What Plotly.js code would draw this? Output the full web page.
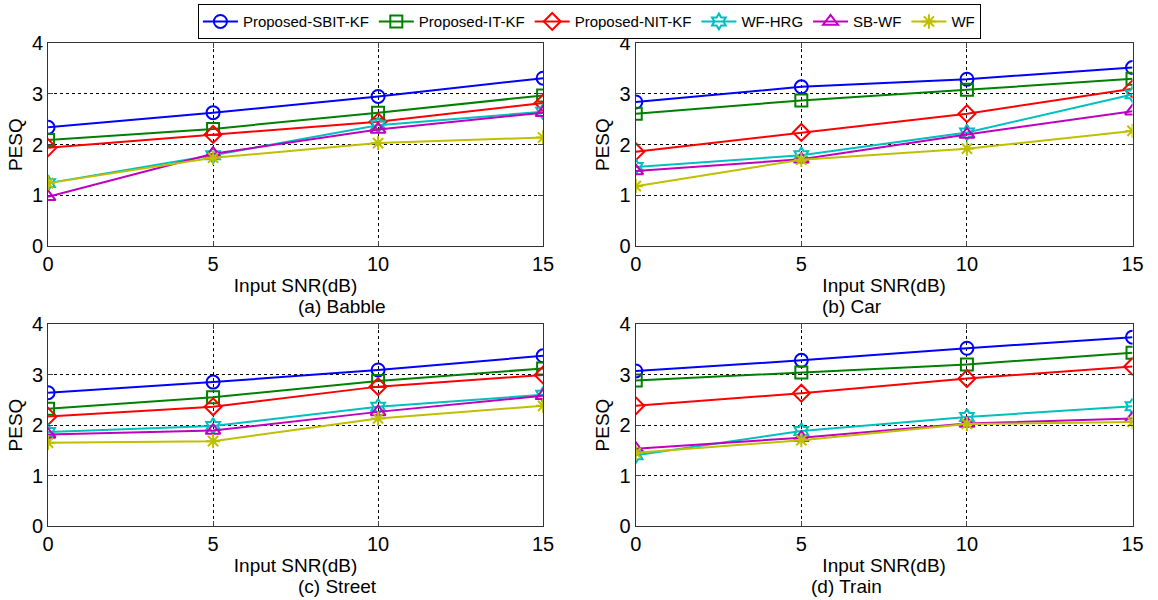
<!DOCTYPE html>
<html><head><meta charset="utf-8">
<script src="https://cdn.plot.ly/plotly-3.0.1.min.js"></script>
<style>body{margin:0;background:#fff}#c{width:1158px;height:600px}</style>
</head><body><div id="c"></div>
<script>
const snr = [0, 5, 10, 15];
const seriesNames = ["Proposed-SBIT-KF","Proposed-IT-KF","Proposed-NIT-KF","WF-HRG","SB-WF","WF"];
const panelTitles = ["(a) Babble","(b) Car","(c) Street","(d) Train"];
const babble = [
  [2.34, 2.63, 2.95, 3.31],
  [2.09, 2.31, 2.63, 2.97],
  [1.94, 2.20, 2.45, 2.82],
  [1.24, 1.79, 2.38, 2.65],
  [0.97, 1.82, 2.30, 2.63],
  [1.24, 1.74, 2.03, 2.14]
];
const car = [
  [2.84, 3.14, 3.29, 3.52],
  [2.61, 2.87, 3.08, 3.30],
  [1.86, 2.24, 2.61, 3.10],
  [1.56, 1.79, 2.24, 2.99],
  [1.48, 1.71, 2.20, 2.66],
  [1.18, 1.70, 1.92, 2.27]
];
const street = [
  [2.64, 2.85, 3.09, 3.37],
  [2.32, 2.55, 2.87, 3.12],
  [2.17, 2.36, 2.76, 2.99],
  [1.86, 1.98, 2.36, 2.60],
  [1.81, 1.89, 2.26, 2.58],
  [1.65, 1.68, 2.13, 2.38]
];
const train = [
  [3.07, 3.28, 3.52, 3.74],
  [2.88, 3.04, 3.20, 3.43],
  [2.38, 2.63, 2.92, 3.16],
  [1.40, 1.88, 2.16, 2.37],
  [1.53, 1.75, 2.03, 2.13],
  [1.45, 1.70, 2.02, 2.06]
];
const panels = [babble, car, street, train];
const colors = ["#0000FF","#008000","#FF0000","#00BFBF","#BF00BF","#BFBF00"];
const symbols = ["circle-open","square-open","diamond-open","hexagram-open","triangle-up-open","asterisk-open"];
const msizes = [13,12,13,12,13,12];

const traces = [];
panels.forEach((p, pi) => {
  const ax = pi === 0 ? "" : String(pi + 1);
  p.forEach((vals, si) => {
    traces.push({
      x: snr, y: vals, type: "scatter", mode: "lines+markers",
      name: seriesNames[si], showlegend: pi === 0, legendgroup: seriesNames[si],
      xaxis: "x" + ax, yaxis: "y" + ax,
      line: {color: colors[si], width: 2},
      marker: {symbol: symbols[si], size: msizes[si], color: colors[si], line: {color: colors[si], width: 2}}
    });
  });
});

const font = {family: "Liberation Sans, Arial, sans-serif", color: "#000"};
function xa(dom, anchor) {
  return {domain: dom, anchor: anchor, range: [0, 15], tickvals: [0,5,10,15], ticks: "inside", ticklen: 5,
    showline: true, mirror: "ticks", linecolor: "#333", linewidth: 1,
    showgrid: true, gridcolor: "#000", griddash: "dot", gridwidth: 1, zeroline: false,
    tickfont: {size: 20, family: font.family, color: "#000"},
    title: {text: "Input SNR(dB)", font: {size: 19, family: font.family, color: "#000"}, standoff: 4}};
}
function ya(dom, anchor) {
  return {domain: dom, anchor: anchor, range: [0, 4], tickvals: [0,1,2,3,4], ticks: "inside", ticklen: 5,
    showline: true, mirror: "ticks", linecolor: "#333", linewidth: 1,
    showgrid: true, gridcolor: "#000", griddash: "dot", gridwidth: 1, zeroline: false,
    tickfont: {size: 20, family: font.family, color: "#000"}, ticklabelstandoff: 0,
    title: {text: "PESQ", font: {size: 19, family: font.family, color: "#000"}, standoff: 4}};
}
const xL = [0.0415, 0.469], xR = [0.549, 0.978];
const yT = [0.59, 0.928], yB = [0.1233, 0.46];
const layout = {
  width: 1158, height: 600, margin: {l: 0, r: 0, t: 0, b: 0},
  paper_bgcolor: "#fff", plot_bgcolor: "#fff", font: font,
  xaxis: xa(xL, "y"), yaxis: ya(yT, "x"),
  xaxis2: xa(xR, "y2"), yaxis2: ya(yT, "x2"),
  xaxis3: xa(xL, "y3"), yaxis3: ya(yB, "x3"),
  xaxis4: xa(xR, "y4"), yaxis4: ya(yB, "x4"),
  showlegend: true,
  legend: {orientation: "h", x: 0.509, xanchor: "center", y: 0.993, yanchor: "top",
    bordercolor: "#000", borderwidth: 1, bgcolor: "#fff",
    font: {size: 15, family: font.family, color: "#000"}, itemwidth: 35, tracegroupgap: 0},
  annotations: panelTitles.map((t, i) => ({
    text: t, xref: "paper", yref: "paper", showarrow: false,
    x: (i % 2 === 0) ? (xL[0] + xL[1]) / 2 : (xR[0] + xR[1]) / 2,
    y: i < 2 ? 1 - 306/600 : 1 - 586/600, yanchor: "middle",
    font: {size: 19, family: font.family, color: "#000"}
  }))
};
Plotly.newPlot("c", traces, layout, {displayModeBar: false, staticPlot: true});
</script></body></html>
